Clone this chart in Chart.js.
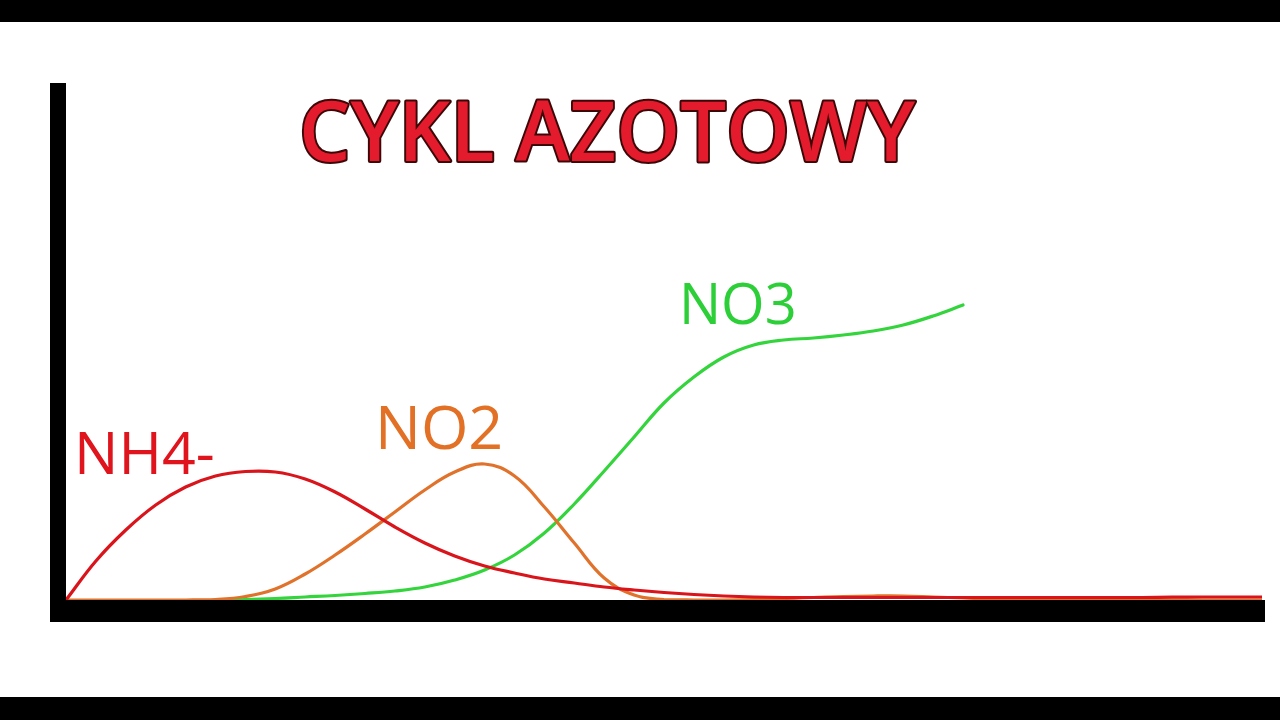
<!DOCTYPE html>
<html>
<head>
<meta charset="utf-8">
<script src="https://cdn.jsdelivr.net/npm/chart.js@4/dist/chart.umd.min.js"></script>
<style>
  html, body { margin: 0; padding: 0; background: #fff; width: 1280px; height: 720px; overflow: hidden; }
  #topBand { position: absolute; left: 0; top: 0; width: 1280px; height: 22px; background: #000; }
  #bottomBand { position: absolute; left: 0; top: 697px; width: 1280px; height: 23px; background: #000; }
  #wrap { position: absolute; left: 0; top: 0; width: 1280px; height: 720px; }
</style>
</head>
<body>
<div id="wrap"><canvas id="c" width="1280" height="720"></canvas></div>
<div id="topBand"></div>
<div id="bottomBand"></div>
<script>
// ---- data (x = time units, y = concentration units) ----
const titleText = "CYKL AZOTOWY";
const seriesNames = ["NH4-", "NO2", "NO3"];

const timeX = [0, 3, 6, 9, 12, 15, 18, 21, 24, 27, 30, 33, 36, 39, 42, 45, 48, 51, 54, 57, 60,
               63, 66, 69, 72, 75, 78, 81, 84, 87, 90, 93, 96, 99, 102, 105, 108, 111, 114, 117, 120];

const nh4Y = [0, 3.9, 7.0, 9.5, 11.3, 12.4, 12.85, 12.8, 12.1, 10.8, 9.1, 7.3, 5.7, 4.4, 3.4, 2.7, 2.1, 1.7, 1.3, 1.0, 0.75,
              0.55, 0.4, 0.3, 0.25, 0.25, 0.25, 0.25, 0.25, 0.25, 0.25, 0.25, 0.25, 0.25, 0.25, 0.25, 0.25, 0.28, 0.3, 0.3, 0.3];

const no2Y = [0, 0, 0, 0, 0, 0.05, 0.35, 1.1, 2.6, 4.5, 6.6, 8.8, 11.0, 12.8, 13.6, 12.4, 9.3, 5.7, 2.2, 0.5, 0.05,
              0, 0, 0.05, 0.15, 0.25, 0.35, 0.4, 0.4, 0.3, 0.2, 0.1, 0.05, 0, 0, 0, 0, 0, 0, 0, 0];

const no3Y = [null, null, null, null, null, 0, 0.05, 0.15, 0.3, 0.45, 0.65, 0.9, 1.3, 2.0, 3.0, 4.5, 6.7, 9.6, 12.9, 16.3, 19.7,
              22.3, 24.3, 25.5, 26.0, 26.2, 26.5, 26.9, 27.5, 28.4, 29.5, null, null, null, null, null, null, null, null, null, null];

const xMin = 0, xMax = 120, yMin = 0, yMax = 52;

const toPoints = (xs, ys) => xs.map((x, i) => ({ x: x, y: ys[i] }));

const lineColors = ["#d9141b", "#e0722b", "#33d43c"];
const labelColors = ["#e0141c", "#e27025", "#2dcf38"];

// label anchor (data units) and font size
const labelCfg = [
  { text: seriesNames[0], x: 0.8, y: 12.6, size: 59 },
  { text: seriesNames[1], x: 31.0, y: 15.1, size: 61 },
  { text: seriesNames[2], x: 61.5, y: 27.6, size: 56 }
];

const axesPlugin = {
  id: 'axesBars',
  beforeDatasetsDraw(chart) {
    const { ctx, chartArea } = chart;
    ctx.save();
    ctx.fillStyle = '#000';
    ctx.fillRect(chartArea.left - 16, chartArea.top + 3, 16, chartArea.bottom - chartArea.top + 19);
    ctx.fillRect(chartArea.left - 16, chartArea.bottom, chartArea.right - chartArea.left + 19, 22);
    ctx.restore();
  },
  afterDraw(chart) {
    const { ctx, scales } = chart;
    ctx.save();
    labelCfg.forEach((l, i) => {
      ctx.font = "400 " + l.size + "px 'Open Sans'";
      ctx.fillStyle = labelColors[i];
      ctx.textBaseline = 'alphabetic';
      ctx.textAlign = 'left';
      ctx.fillText(l.text, scales.x.getPixelForValue(l.x), scales.y.getPixelForValue(l.y));
    });
    ctx.font = "600 84px 'Open Sans'";
    const w = ctx.measureText(titleText).width;
    const targetW = 616;
    const sx = targetW / w;
    ctx.translate(607, 161);
    ctx.scale(sx, 1);
    ctx.textAlign = 'center';
    ctx.textBaseline = 'alphabetic';
    ctx.lineJoin = 'round';
    ctx.lineWidth = 4;
    ctx.strokeStyle = '#3d0707';
    ctx.strokeText(titleText, 0, 0);
    ctx.fillStyle = '#e41b2d';
    ctx.fillText(titleText, 0, 0);
    ctx.restore();
  }
};

new Chart(document.getElementById('c'), {
  type: 'line',
  data: {
    datasets: [
      { label: seriesNames[0], data: toPoints(timeX, nh4Y), borderColor: lineColors[0], borderWidth: 3.2 },
      { label: seriesNames[1], data: toPoints(timeX, no2Y), borderColor: lineColors[1], borderWidth: 3.2 },
      { label: seriesNames[2], data: toPoints(timeX, no3Y), borderColor: lineColors[2], borderWidth: 3.2 }
    ]
  },
  options: {
    responsive: false,
    animation: false,
    layout: { padding: { left: 66, right: 18, top: 80, bottom: 120 } },
    elements: {
      point: { radius: 0, hoverRadius: 0 },
      line: { tension: 0.4, fill: false, borderCapStyle: 'round', borderJoinStyle: 'round' }
    },
    scales: {
      x: { type: 'linear', min: xMin, max: xMax, display: false },
      y: { type: 'linear', min: yMin, max: yMax, display: false }
    },
    plugins: {
      legend: { display: false },
      tooltip: { enabled: false },
      title: { display: false }
    }
  },
  plugins: [axesPlugin]
});
</script>
</body>
</html>
